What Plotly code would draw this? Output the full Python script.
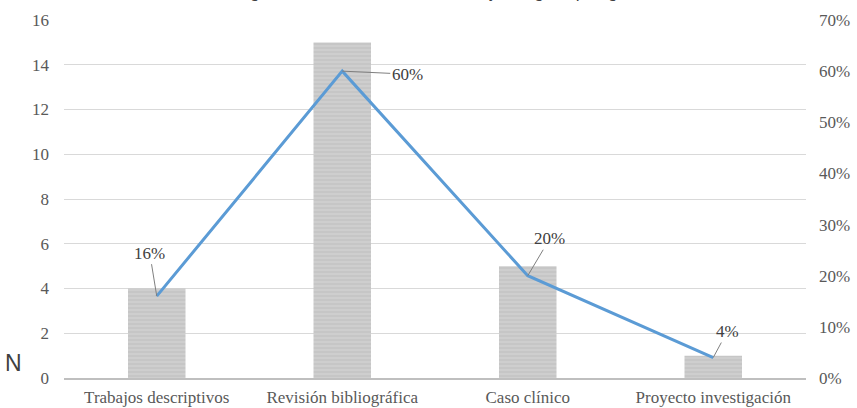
import plotly.graph_objects as go

categories = ["Trabajos descriptivos", "Revisión bibliográfica", "Caso clínico", "Proyecto investigación"]
counts = [4, 15, 5, 1]
percents = [16, 60, 20, 4]
pct_labels = ["16%", "60%", "20%", "4%"]
left_ticks = [0, 2, 4, 6, 8, 10, 12, 14, 16]
right_ticks = [0, 10, 20, 30, 40, 50, 60, 70]

fig = go.Figure()
fig.add_trace(go.Bar(
    x=categories, y=counts, width=0.31,
    marker=dict(color="#c6c6c6", line=dict(width=0),
                pattern=dict(shape="-", fgcolor="#e6e6e6", size=4, solidity=0.25)),
    showlegend=False, hoverinfo="skip"))
fig.add_trace(go.Scatter(
    x=categories, y=percents, yaxis="y2", mode="lines",
    line=dict(color="#5b9bd5", width=3), showlegend=False, hoverinfo="skip"))

offsets = [(-7, -43), (65, 3), (22, -37), (14, -26)]
for cat, p, lab, (ax, ay) in zip(categories, percents, pct_labels, offsets):
    fig.add_annotation(x=cat, y=p, xref="x", yref="y2", text=lab,
                       showarrow=True, arrowhead=0, arrowwidth=1, arrowcolor="#7f7f7f",
                       ax=ax, ay=ay, font=dict(family="Liberation Serif", size=17, color="#404040"))

fig.add_annotation(xref="paper", yref="paper", x=0.5, y=1, yshift=16, yanchor="bottom",
                   text="<i>Figura 1. Distribución de los trabajos según tipología</i>",
                   showarrow=False, font=dict(family="Liberation Sans", size=17, color="#404040"))
fig.add_annotation(xref="paper", yref="paper", x=-0.082, y=0.042, xanchor="left", yanchor="middle",
                   text="N", showarrow=False,
                   font=dict(family="Liberation Sans", size=23, color="#404040"))

tick_font = dict(family="Liberation Serif", size=17, color="#595959")
fig.update_layout(
    width=857, height=408,
    margin=dict(l=64, r=51, t=20, b=30),
    plot_bgcolor="white", paper_bgcolor="white",
    xaxis=dict(showgrid=False, tickfont=tick_font, showline=True, linecolor="#bfbfbf",
               linewidth=2, ticks="", ticklabelstandoff=3, automargin=False),
    yaxis=dict(range=[0, 16], tickvals=left_ticks, showgrid=True, gridcolor="#d9d9d9",
               tickfont=tick_font, zeroline=False, ticklabelstandoff=14, automargin=False),
    yaxis2=dict(range=[0, 70], tickvals=right_ticks, ticktext=[f"{v}%" for v in right_ticks],
                overlaying="y", side="right", showgrid=False, tickfont=tick_font,
                zeroline=False, ticklabelstandoff=12, automargin=False),
    bargap=0.69,
)
fig.write_html("out.html", config={"displayModeBar": False},
               post_script="document.body.style.margin='0px';")
